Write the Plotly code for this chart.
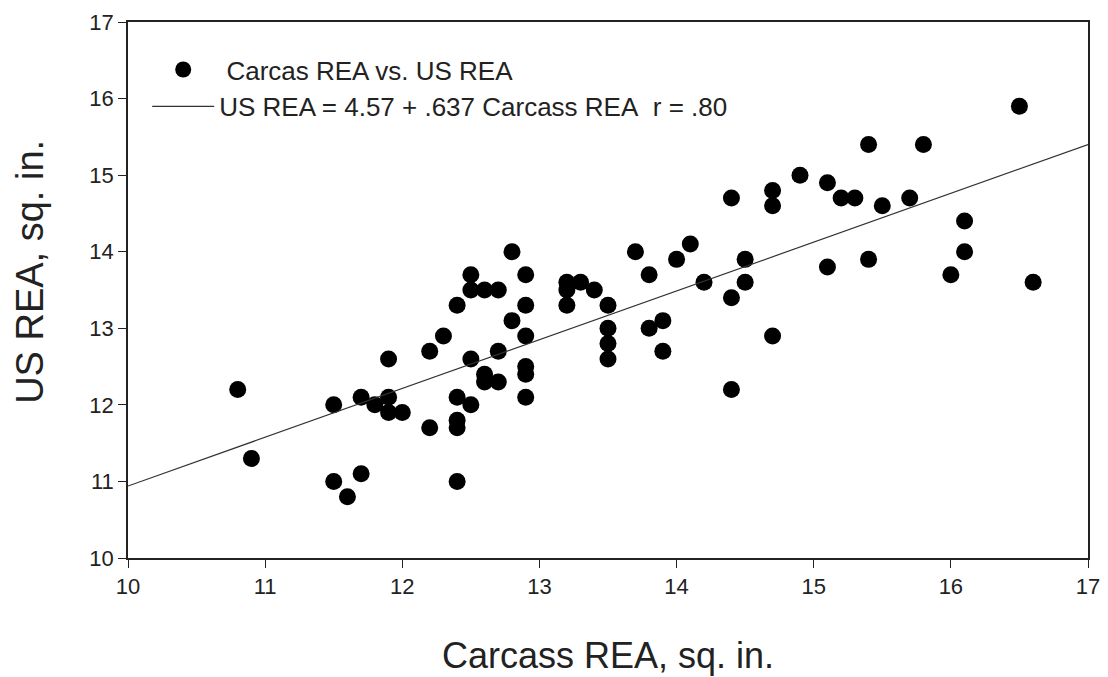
import plotly.graph_objects as go

carcass_rea = [10.8, 10.9, 11.5, 11.5, 11.6, 11.7, 11.7, 11.8, 11.9, 11.9, 11.9, 12.0,
               12.2, 12.2, 12.3, 12.4, 12.4, 12.4, 12.4, 12.4, 12.5, 12.5, 12.5, 12.5,
               12.6, 12.7, 12.6, 12.6, 12.7, 12.7, 12.8, 12.8, 12.9, 12.9, 12.9, 12.9,
               12.9, 12.9, 13.2, 13.2, 13.3, 13.4, 13.2, 13.5, 13.5, 13.5, 13.5, 13.7,
               13.8, 13.8, 13.9, 13.9, 14.0, 14.1, 14.2, 14.4, 14.4, 14.4, 14.5, 14.5,
               14.7, 14.7, 14.7, 14.9, 15.1, 15.1, 15.2, 15.3, 15.4, 15.4, 15.5, 15.7,
               15.8, 16.0, 16.1, 16.1, 16.5, 16.6]
us_rea = [12.2, 11.3, 12.0, 11.0, 10.8, 11.1, 12.1, 12.0, 12.6, 12.1, 11.9, 11.9,
          12.7, 11.7, 12.9, 13.3, 12.1, 11.8, 11.7, 11.0, 12.0, 12.6, 13.7, 13.5,
          13.5, 13.5, 12.4, 12.3, 12.3, 12.7, 14.0, 13.1, 13.7, 13.3, 12.9, 12.5,
          12.4, 12.1, 13.6, 13.5, 13.6, 13.5, 13.3, 13.3, 13.0, 12.8, 12.6, 14.0,
          13.7, 13.0, 13.1, 12.7, 13.9, 14.1, 13.6, 14.7, 13.4, 12.2, 13.9, 13.6,
          14.8, 14.6, 12.9, 15.0, 14.9, 13.8, 14.7, 14.7, 15.4, 13.9, 14.6, 14.7,
          15.4, 13.7, 14.4, 14.0, 15.9, 13.6]

intercept = 4.57
slope = 0.637
line_x = [10, 17]
line_y = [intercept + slope * v for v in line_x]

x_ticks = [10, 11, 12, 13, 14, 15, 16, 17]
y_ticks = [10, 11, 12, 13, 14, 15, 16, 17]

FONT = "Liberation Sans, Arial, sans-serif"

fig = go.Figure()
fig.add_trace(go.Scatter(
    x=carcass_rea, y=us_rea, mode="markers",
    name="&nbsp;Carcas REA vs. US REA",
    marker=dict(color="black", size=17, line=dict(width=0)),
))
fig.add_trace(go.Scatter(
    x=line_x, y=line_y, mode="lines",
    name="US REA = 4.57 + .637 Carcass REA&nbsp;&nbsp;r = .80",
    line=dict(color="#333333", width=1.2),
))

axis_common = dict(
    showgrid=False, zeroline=False, automargin=False,
    showline=True, linecolor="#222222", linewidth=1.5, mirror=True,
    ticks="outside", ticklen=8, tickwidth=1, tickcolor="#222222",
    tickfont=dict(family=FONT, size=22, color="#222222"),
)

fig.update_layout(
    width=1108, height=677,
    margin=dict(l=128, r=20, t=22, b=119),
    paper_bgcolor="white", plot_bgcolor="white",
    font=dict(family=FONT, color="#222222"),
    xaxis=dict(range=[10, 17], tickvals=x_ticks, **axis_common),
    yaxis=dict(range=[10, 17], tickvals=y_ticks, **axis_common),
    showlegend=True,
    legend=dict(x=0.02, y=0.955, xanchor="left", yanchor="top",
                bgcolor="rgba(0,0,0,0)", font=dict(size=26),
                itemwidth=62, tracegroupgap=0),
    annotations=[
        dict(text="Carcass REA, sq. in.", xref="paper", yref="paper",
             x=0.5, y=-0.181, xanchor="center", yanchor="middle",
             showarrow=False, font=dict(size=36)),
        dict(text="US REA, sq. in.", xref="paper", yref="paper",
             x=-0.102, y=0.534, xanchor="center", yanchor="middle",
             textangle=-90, showarrow=False, font=dict(size=38)),
    ],
)

fig.write_html("out.html")
